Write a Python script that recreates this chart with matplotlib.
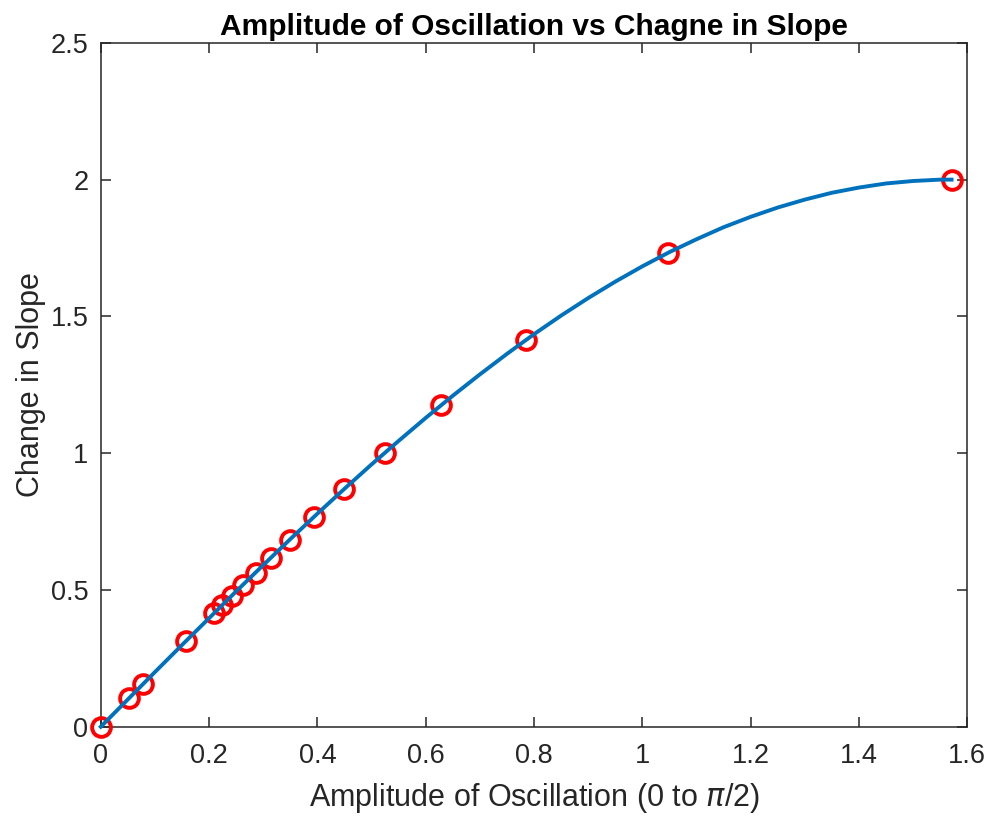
import matplotlib.pyplot as plt

plt.rcParams['font.family'] = ['Liberation Sans', 'DejaVu Sans']

# sampled points (amplitude, change in slope)
amp_points = [0, 0.0524, 0.0785, 0.157, 0.209, 0.224, 0.242, 0.262, 0.286,
              0.314, 0.349, 0.393, 0.449, 0.524, 0.628, 0.785, 1.047, 1.571]
slope_points = [0, 0.105, 0.157, 0.313, 0.416, 0.445, 0.479, 0.518, 0.563,
                0.618, 0.684, 0.765, 0.868, 1.0, 1.176, 1.414, 1.732, 2.0]

# fitted curve
amp_curve = [0, 0.05, 0.10, 0.15, 0.20, 0.25, 0.30, 0.35, 0.40, 0.45, 0.50,
             0.55, 0.60, 0.65, 0.70, 0.75, 0.80, 0.85, 0.90, 0.95, 1.00,
             1.05, 1.10, 1.15, 1.20, 1.25, 1.30, 1.35, 1.40, 1.45, 1.50,
             1.55, 1.571]
slope_curve = [0, 0.100, 0.200, 0.299, 0.397, 0.495, 0.591, 0.686, 0.779,
               0.870, 0.959, 1.045, 1.129, 1.210, 1.288, 1.363, 1.435, 1.503,
               1.567, 1.627, 1.683, 1.735, 1.782, 1.826, 1.864, 1.898, 1.927,
               1.952, 1.971, 1.986, 1.995, 2.000, 2.000]

fig = plt.figure(figsize=(9.88, 8.24), dpi=100)
ax = fig.add_axes([0.102, 0.118, 0.877, 0.830])

ax.plot(amp_points, slope_points, 'o', mfc='none', mec='red', ms=13.5,
        mew=2.8, zorder=2, clip_on=False)
ax.plot(amp_curve, slope_curve, color='#0072BD', lw=2.8, zorder=3,
        clip_on=False)

ax.set_xlim(0, 1.6)
ax.set_ylim(0, 2.5)
ax.set_xticks([0, 0.2, 0.4, 0.6, 0.8, 1, 1.2, 1.4, 1.6])
ax.set_xticklabels(['0', '0.2', '0.4', '0.6', '0.8', '1', '1.2', '1.4', '1.6'])
ax.set_yticks([0, 0.5, 1, 1.5, 2, 2.5])
ax.set_yticklabels(['0', '0.5', '1', '1.5', '2', '2.5'])

for s in ax.spines.values():
    s.set_color('#262626')
    s.set_linewidth(1.1)
    s.set_zorder(1)
ax.tick_params(direction='in', top=True, right=True, length=7, width=1.1,
               colors='#262626', labelsize=19.5)
ax.tick_params(axis='x', pad=12)
ax.tick_params(axis='y', pad=9)

ax.set_xlabel(r'Amplitude of Oscillation (0 to $\pi$/2)', fontsize=22,
              color='#262626', labelpad=8)
ax.set_ylabel('Change in Slope', fontsize=22, color='#262626', labelpad=3)
ax.set_title('Amplitude of Oscillation vs Chagne in Slope', fontsize=21.5,
             fontweight='bold', pad=6)

fig.savefig('out.png', dpi=100)
